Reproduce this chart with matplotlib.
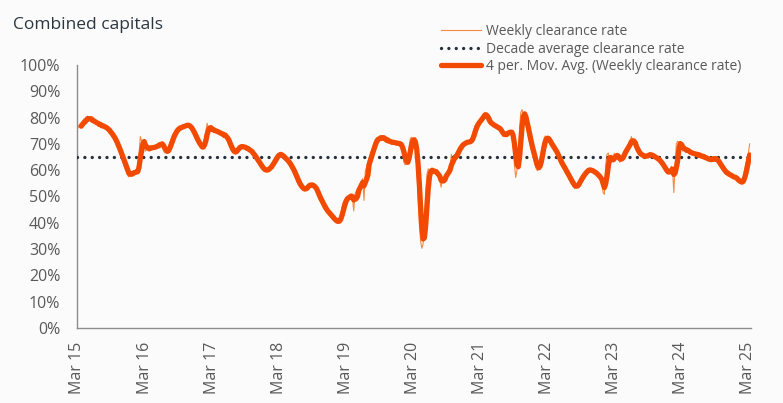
import matplotlib
matplotlib.use("Agg")
import matplotlib.pyplot as plt
from matplotlib.ticker import PercentFormatter
import numpy as np
import pandas as pd

# weekly clearance rate (%), one list per year starting early March
weekly_2015 = [75.5, 76.8, 77.5, 77.0, 78.2, 79.5, 78.6, 79.8, 80.5, 79.2,
               78.8, 79.4, 78.0, 78.5, 77.6, 78.2, 77.0, 76.8, 77.5, 76.2,
               76.8, 75.9, 76.4, 75.2, 75.0, 74.2, 73.6, 73.0, 72.1, 71.2,
               70.0, 68.9, 67.6, 66.3, 65.0, 63.8, 62.2, 60.8, 59.6, 58.2,
               57.4, 58.6, 59.5, 58.8, 59.2, 59.0, 60.1, 59.5, 66.0, 72.8,
               71.0, 70.2]
weekly_2016 = [69.5, 67.2, 68.0, 68.9, 68.2, 68.8, 68.0, 69.2, 68.6, 69.4,
               69.0, 69.8, 70.4, 69.6, 70.2, 67.4, 66.5, 66.8, 67.9, 68.4,
               70.5, 71.8, 73.2, 74.0, 74.8, 75.5, 76.3, 75.8, 76.6, 76.0,
               77.2, 76.5, 77.4, 76.8, 77.6, 76.2, 75.8, 75.0, 74.1, 72.8,
               71.6, 70.9, 70.0, 69.1, 68.6, 68.0, 69.4, 72.5, 74.8, 77.8,
               75.6, 76.0]
weekly_2017 = [75.2, 74.8, 75.6, 74.3, 74.9, 74.0, 74.6, 73.4, 73.8, 73.2,
               72.8, 73.5, 71.6, 70.8, 69.5, 68.4, 67.2, 66.5, 67.0, 66.8,
               68.2, 68.9, 69.4, 68.5, 69.1, 68.6, 68.9, 68.0, 67.6, 68.1,
               67.2, 66.8, 66.0, 65.4, 64.8, 64.0, 63.1, 62.4, 61.6, 61.0,
               60.2, 60.0, 59.6, 60.4, 60.1, 61.0, 61.5, 62.2, 63.0, 64.0,
               64.8, 65.5]
weekly_2018 = [66.4, 65.8, 66.2, 65.0, 64.9, 64.4, 63.8, 63.5, 62.6, 61.9,
               61.0, 60.2, 59.0, 58.0, 56.6, 55.4, 54.6, 53.8, 53.2, 52.8,
               52.4, 52.9, 53.6, 54.2, 54.8, 54.5, 53.9, 54.3, 53.6, 52.8,
               51.4, 50.2, 49.0, 48.2, 47.4, 46.3, 45.2, 44.8, 44.0, 43.6,
               43.0, 42.4, 41.8, 41.2, 40.8, 40.4, 40.2, 40.6, 41.5, 43.5,
               46.2, 48.0]
weekly_2019 = [48.6, 49.5, 50.2, 49.6, 50.0, 50.8, 49.4, 44.5, 51.0, 52.0,
               52.8, 53.6, 54.8, 56.0, 56.8, 48.5, 59.6, 61.2, 63.0, 64.8,
               66.0, 67.5, 69.2, 70.6, 71.8, 72.4, 71.6, 72.2, 73.0, 71.8,
               72.4, 71.5, 70.6, 71.8, 70.4, 71.2, 69.8, 71.0, 70.2, 70.8,
               69.4, 70.6, 69.8, 70.4, 68.2, 66.5, 63.0, 62.0, 62.4, 64.5,
               68.6, 72.0]
weekly_2020 = [72.5, 71.8, 70.0, 68.5, 62.0, 50.0, 40.0, 33.0, 30.3, 32.0,
               42.0, 52.0, 58.5, 60.5, 60.0, 59.0, 60.4, 59.6, 58.8, 59.2,
               58.0, 57.2, 56.0, 53.5, 56.8, 57.4, 58.0, 58.8, 59.6, 60.4,
               61.8, 66.0, 63.8, 64.5, 65.8, 66.9, 67.8, 68.6, 69.4, 69.8,
               70.4, 70.1, 70.6, 71.0, 70.8, 70.5, 71.2, 72.8, 74.8, 76.2,
               77.5, 78.0]
weekly_2021 = [78.4, 79.2, 79.8, 80.6, 81.2, 82.0, 80.4, 78.6, 78.0, 77.4,
               77.8, 77.0, 76.6, 76.2, 76.8, 75.6, 75.8, 74.6, 74.0, 72.8,
               73.4, 73.8, 74.2, 74.8, 74.2, 74.6, 74.0, 70.0, 62.0, 57.2,
               60.0, 66.0, 76.0, 82.0, 83.0, 81.0, 79.6, 77.0, 74.6, 72.0,
               70.0, 67.8, 66.0, 64.5, 62.0, 60.5, 59.8, 61.4, 64.5, 67.6,
               70.2, 72.0]
weekly_2022 = [73.0, 72.4, 71.2, 70.6, 69.8, 68.8, 68.2, 67.4, 66.8, 65.6,
               64.2, 63.0, 62.4, 61.5, 60.6, 59.8, 58.8, 58.0, 57.2, 56.0,
               55.2, 54.6, 53.8, 53.0, 54.2, 54.8, 55.6, 56.8, 57.6, 58.2,
               58.8, 59.4, 60.0, 60.4, 60.2, 59.8, 59.4, 59.8, 58.8, 58.6,
               58.2, 57.6, 57.0, 56.2, 55.0, 51.5, 50.8, 62.0, 66.0, 66.5,
               64.0, 62.8]
weekly_2023 = [63.2, 65.8, 66.4, 65.2, 65.0, 64.2, 63.0, 64.4, 66.0, 67.0,
               67.6, 68.4, 69.2, 70.2, 71.0, 72.8, 70.6, 69.8, 68.4, 67.2,
               66.6, 66.0, 65.4, 65.8, 65.2, 64.8, 65.4, 66.0, 65.6, 66.2,
               65.8, 65.2, 65.0, 64.6, 64.8, 64.0, 63.6, 63.0, 62.4, 61.6,
               60.8, 59.8, 59.2, 58.6, 59.6, 60.0, 61.5, 60.5, 51.5, 62.0,
               70.0, 71.0]
weekly_2024 = [70.0, 69.4, 68.6, 67.2, 67.8, 68.2, 66.8, 67.4, 66.2, 66.8,
               66.0, 66.6, 65.6, 66.2, 65.8, 65.2, 65.9, 65.0, 64.8, 65.4,
               64.2, 64.6, 63.8, 64.4, 63.6, 64.2, 64.8, 64.0, 64.6, 63.8,
               63.0, 62.2, 61.4, 60.8, 60.0, 59.4, 58.8, 58.2, 59.2, 57.6,
               57.8, 57.2, 57.8, 56.8, 57.2, 56.0, 55.6, 55.4, 55.6, 55.2,
               56.8, 60.0]
weekly_2025 = [62.5, 64.0, 66.5, 70.0]

decade_avg = 65.0
tick_labels = ["Mar 15", "Mar 16", "Mar 17", "Mar 18", "Mar 19", "Mar 20",
               "Mar 21", "Mar 22", "Mar 23", "Mar 24", "Mar 25"]

weekly = (weekly_2015 + weekly_2016 + weekly_2017 + weekly_2018 + weekly_2019 +
          weekly_2020 + weekly_2021 + weekly_2022 + weekly_2023 + weekly_2024 +
          weekly_2025)
dates = pd.date_range("2015-03-01", periods=len(weekly), freq="7D")
rate = pd.Series(weekly, index=dates) / 100
ma = rate.rolling(4).mean()

plt.rcParams["font.family"] = ["Open Sans", "DejaVu Sans"]

fig = plt.figure(figsize=(7.83, 4.03), dpi=100, facecolor="#fbfbfb")
ax = fig.add_axes([0.0983, 0.186, 0.861, 0.653])
ax.set_facecolor("#fbfbfb")

ax.plot(rate.index, rate.values, color="#f58a42", lw=0.8, label="Weekly clearance rate", zorder=2)
ax.plot(rate.index, [decade_avg / 100] * len(rate), color="#25313d", lw=2.4,
        linestyle=(0, (0.01, 2.2)), dash_capstyle="round",
        label="Decade average clearance rate", zorder=3)
ax.plot(ma.index, ma.values, color="#f24a00", lw=3.8, solid_capstyle="round",
        label="4 per. Mov. Avg. (Weekly clearance rate)", zorder=4)

ax.set_ylim(0, 1)
ax.set_yticks(np.arange(0, 1.01, 0.1))
ax.yaxis.set_major_formatter(PercentFormatter(1.0, decimals=0))

ticks = pd.date_range("2015-03-01", periods=len(tick_labels), freq="12MS")
ax.set_xticks(ticks)
ax.set_xticklabels(tick_labels, rotation=90)
ax.set_xlim(pd.Timestamp("2015-02-27"), pd.Timestamp("2025-03-17"))

ax.tick_params(axis="both", length=0, labelsize=11.5, colors="#595959")
ax.tick_params(axis="y", pad=12)
ax.tick_params(axis="x", pad=10)
for s in ["top", "right"]:
    ax.spines[s].set_visible(False)
for s in ["left", "bottom"]:
    ax.spines[s].set_color("#8c8c8c")
    ax.spines[s].set_linewidth(1.0)

fig.text(0.0166, 0.938, "Combined capitals", fontsize=12.5, color="#2b3640", va="center")

leg = fig.legend(loc="upper left", bbox_to_anchor=(0.547, 0.972), frameon=False,
                 fontsize=10, handlelength=2.9, handletextpad=0.35, labelspacing=0.2,
                 labelcolor="#595959")

fig.savefig("out.png", dpi=100, facecolor=fig.get_facecolor())
